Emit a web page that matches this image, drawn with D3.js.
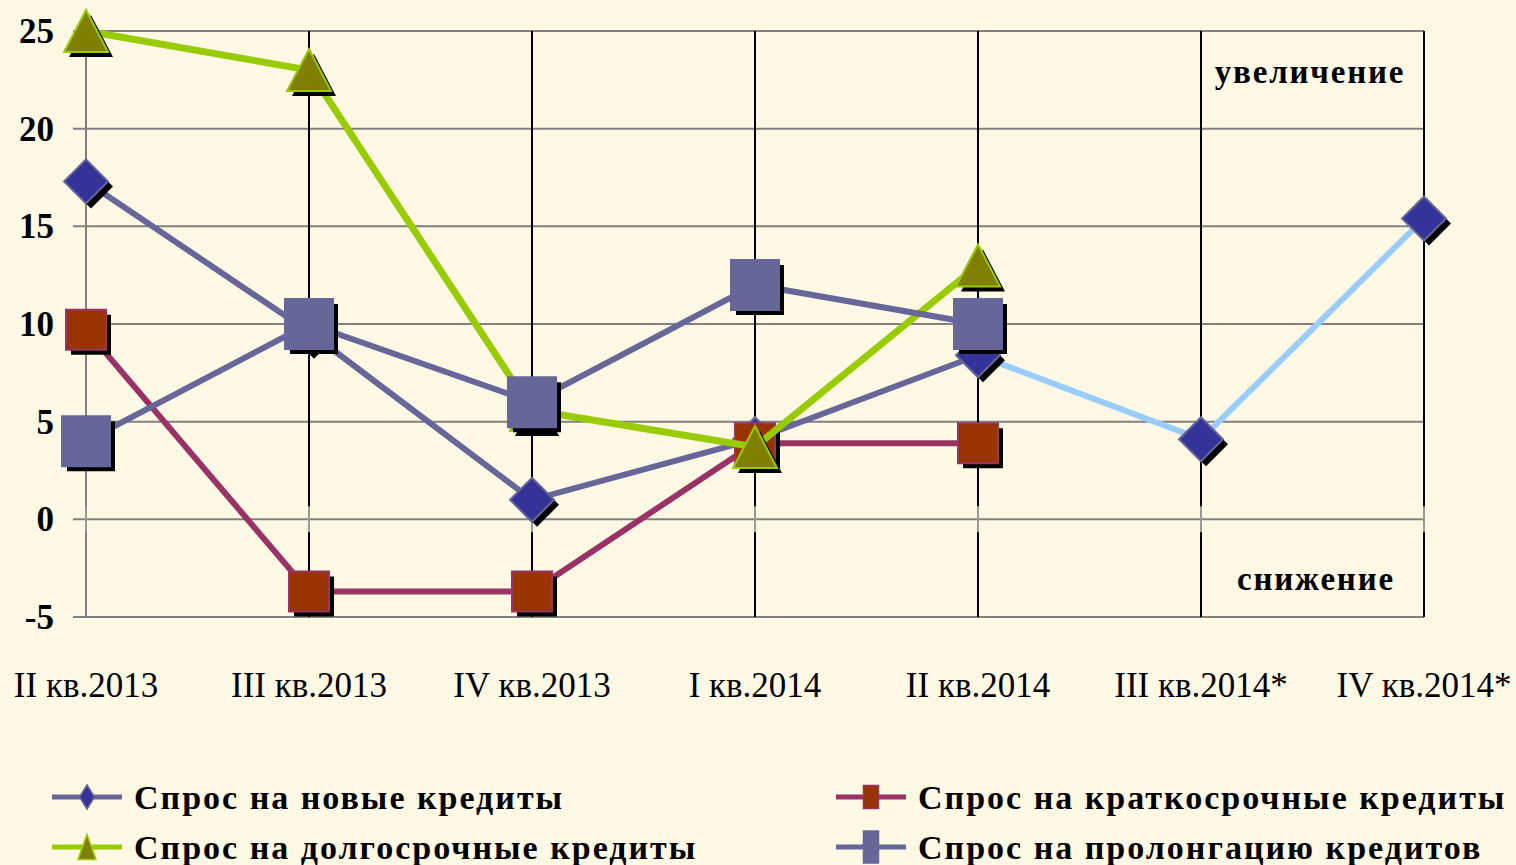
<!DOCTYPE html>
<html>
<head>
<meta charset="utf-8">
<script src="https://cdn.jsdelivr.net/npm/d3@7"></script>
<style>
  html, body { margin: 0; padding: 0; background: #fff8e4; }
  svg { display: block; }
</style>
</head>
<body>
<div id="chart"></div>
<script>
// quarters on the x axis
const quarters = ["II кв.2013", "III кв.2013", "IV кв.2013", "I кв.2014", "II кв.2014", "III кв.2014*", "IV кв.2014*"];
const yTicks = [-5, 0, 5, 10, 15, 20, 25];

// series values (null = no data)
const newLoans = [17.3, 9.6, 1.0, 4.1, 8.4, 4.1, 15.4];
const shortLoans = [9.7, -3.7, -3.7, 3.9, 3.9, null, null];
const longLoans = [25, 23, 5.6, 3.7, 13.0, null, null];
const prolongLoans = [4.0, 10.0, 6.0, 12.0, 10.0, null, null];

const seriesNames = ["Спрос на новые кредиты", "Спрос на краткосрочные кредиты",
                     "Спрос на долгосрочные кредиты", "Спрос на пролонгацию кредитов"];

const width = 1516, height = 865;
const x0 = 86, x1 = 1424, yTop = 31, yBot = 617;

const svg = d3.select("#chart").append("svg")
    .attr("width", width)
    .attr("height", height);

svg.append("rect").attr("width", width).attr("height", height).attr("fill", "#fff8e4");

const x = d3.scalePoint().domain(quarters).range([x0, x1]);
const y = d3.scaleLinear().domain([-5, 25]).range([yBot, yTop]);

// horizontal grid
svg.append("g")
    .selectAll("line")
    .data(yTicks)
    .join("line")
    .attr("x1", x0 - 13)
    .attr("x2", x1)
    .attr("y1", d => y(d))
    .attr("y2", d => y(d))
    .attr("stroke", "#808080")
    .attr("stroke-width", 2);

// vertical category lines
svg.append("g")
    .selectAll("line")
    .data(quarters)
    .join("line")
    .attr("x1", d => x(d))
    .attr("x2", d => x(d))
    .attr("y1", yTop)
    .attr("y2", yBot)
    .attr("stroke", (d, i) => i === 0 ? "#808080" : "#000")
    .attr("stroke-width", 2);

// x axis ticks crossing at zero
svg.append("g")
    .selectAll("line")
    .data(quarters)
    .join("line")
    .attr("x1", d => x(d))
    .attr("x2", d => x(d))
    .attr("y1", y(0) - 13)
    .attr("y2", y(0) + 13)
    .attr("stroke", "#9a9a90")
    .attr("stroke-width", 2);

// y labels
svg.append("g")
    .selectAll("text")
    .data(yTicks)
    .join("text")
    .attr("x", 54)
    .attr("y", d => y(d) + 12)
    .attr("text-anchor", "end")
    .style("font-family", "'Liberation Serif', 'Times New Roman', serif")
    .style("font-weight", "bold")
    .style("font-size", "35px")
    .text(d => d);

// x labels
svg.append("g")
    .selectAll("text")
    .data(quarters)
    .join("text")
    .attr("x", d => x(d))
    .attr("y", 697)
    .attr("text-anchor", "middle")
    .style("font-family", "'Liberation Serif', 'Times New Roman', serif")
    .style("font-size", "35px")
    .text(d => d);

// annotations
svg.append("text")
    .attr("x", 1310).attr("y", 83)
    .attr("text-anchor", "middle")
    .style("font-family", "'Liberation Serif', serif")
    .style("font-weight", "bold")
    .style("font-size", "33px")
    .style("letter-spacing", "1.8px")
    .text("увеличение");

svg.append("text")
    .attr("x", 1316).attr("y", 590)
    .attr("text-anchor", "middle")
    .style("font-family", "'Liberation Serif', serif")
    .style("font-weight", "bold")
    .style("font-size", "33px")
    .style("letter-spacing", "1.8px")
    .text("снижение");

// marker shapes, centred on 0,0
function markerPath(shape, w, h) {
    const p = d3.path();
    if (shape === "diamond") {
        p.moveTo(0, -h / 2); p.lineTo(w / 2, 0); p.lineTo(0, h / 2); p.lineTo(-w / 2, 0);
    } else if (shape === "triangle") {
        p.moveTo(0, -h / 2); p.lineTo(w / 2, h / 2); p.lineTo(-w / 2, h / 2);
    } else {
        p.rect(-w / 2, -h / 2, w, h);
    }
    p.closePath();
    return p.toString();
}

const series = [
    { name: seriesNames[0], values: newLoans, line: "#666699", shape: "diamond", fill: "#333399", stroke: "#666699", w: 44, h: 44, lw: 6 },
    { name: seriesNames[1], values: shortLoans, line: "#993366", shape: "square", fill: "#993300", stroke: "#993366", w: 40, h: 40, lw: 6 },
    { name: seriesNames[2], values: longLoans, line: "#99cc00", shape: "triangle", fill: "#808000", stroke: "#99cc00", w: 44, h: 42, lw: 7 },
    { name: seriesNames[3], values: prolongLoans, line: "#666699", shape: "square", fill: "#666699", stroke: "#666699", w: 48, h: 50, lw: 6 }
];

const line = d3.line()
    .defined(d => d.v !== null)
    .x(d => x(d.q))
    .y(d => y(d.v));

series.forEach((s, si) => {
    const pts = quarters.map((q, i) => ({ q, v: s.values[i], i }));
    const g = svg.append("g");
    if (si === 0) {
        // forecast part of the new-loans line is light blue
        g.append("path").datum(pts.slice(0, 5)).attr("d", line)
            .attr("fill", "none").attr("stroke", s.line).attr("stroke-width", s.lw);
        g.append("path").datum(pts.slice(4)).attr("d", line)
            .attr("fill", "none").attr("stroke", "#99ccff").attr("stroke-width", s.lw);
    } else {
        g.append("path").datum(pts).attr("d", line)
            .attr("fill", "none").attr("stroke", s.line).attr("stroke-width", s.lw);
    }
    const m = g.selectAll("g.m")
        .data(pts.filter(d => d.v !== null))
        .join("g")
        .attr("transform", d => `translate(${x(d.q)},${y(d.v)})`);
    m.append("path")
        .attr("d", markerPath(s.shape, s.w, s.h))
        .attr("transform", "translate(5,5)")
        .attr("fill", "#000");
    m.append("path")
        .attr("d", markerPath(s.shape, s.w, s.h))
        .attr("fill", s.fill)
        .attr("stroke", s.stroke)
        .attr("stroke-width", 2);
});

// legend
const legendPos = [[52, 797], [836, 797], [52, 847], [836, 847]];
const legendMarker = [[15, 24], [15, 23], [18, 25], [15, 32]];
const legendOrder = [0, 1, 2, 3];
legendOrder.forEach((si, k) => {
    const s = series[si];
    const [lx, ly] = legendPos[k];
    const g = svg.append("g").attr("transform", `translate(${lx},${ly})`);
    g.append("line").attr("x1", 0).attr("x2", 70).attr("y1", 0).attr("y2", 0)
        .attr("stroke", s.line).attr("stroke-width", 5);
    g.append("path")
        .attr("transform", "translate(35,0)")
        .attr("d", markerPath(s.shape, legendMarker[k][0], legendMarker[k][1]))
        .attr("fill", s.fill)
        .attr("stroke", s.stroke)
        .attr("stroke-width", 1.5);
    g.append("text")
        .attr("x", 82)
        .attr("y", 12)
        .style("font-family", "'Liberation Serif', serif")
        .style("font-weight", "bold")
        .style("font-size", "34px")
        .style("letter-spacing", "2px")
        .text(s.name);
});
</script>
</body>
</html>
